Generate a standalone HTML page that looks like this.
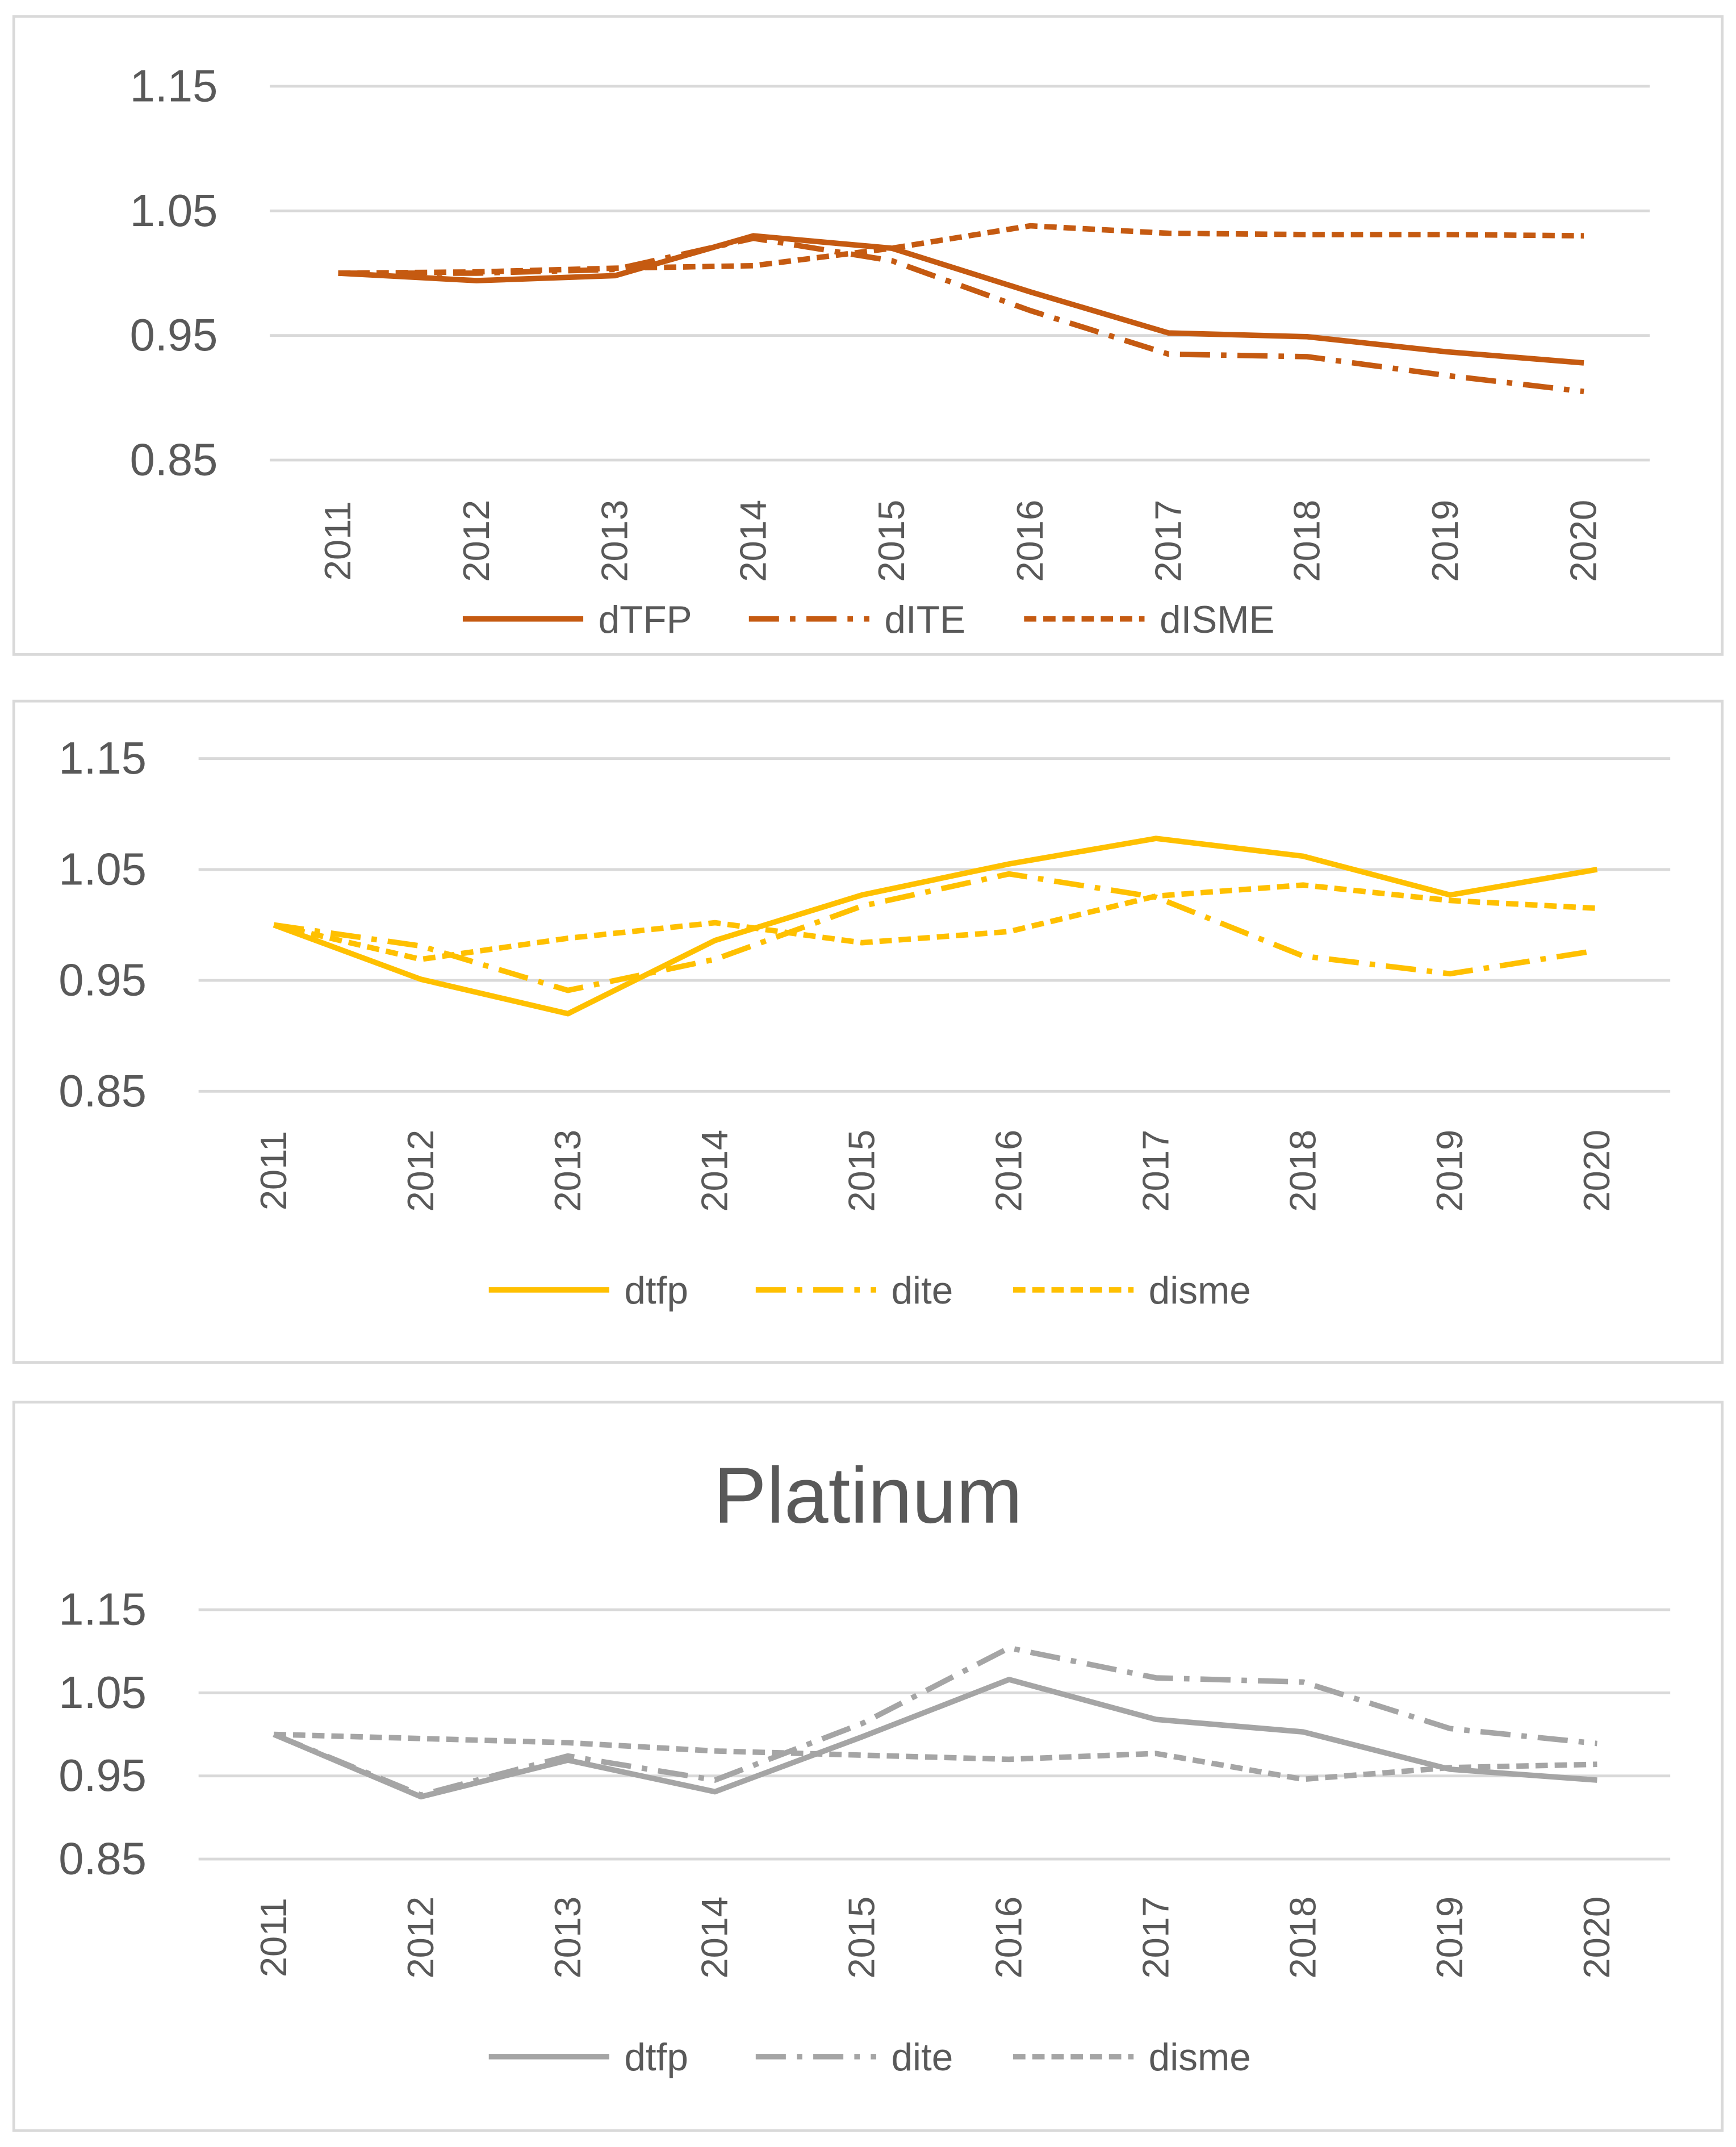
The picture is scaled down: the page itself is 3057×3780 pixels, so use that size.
<!DOCTYPE html>
<html><head><meta charset="utf-8"><style>
html,body{margin:0;padding:0;background:#fff}
svg{display:block}
text{font-family:"Liberation Sans",sans-serif;fill:#595959}
</style></head><body>
<svg id="chart" width="3057" height="3780" viewBox="0 0 1268 1568" xmlns="http://www.w3.org/2000/svg"></svg>
<script>
const years = ["2011","2012","2013","2014","2015","2016","2017","2018","2019","2020"];
const yTicks = [0.85, 0.95, 1.05, 1.15];
const p1TFP = [1.0, 0.994, 0.998, 1.030, 1.020, 0.985, 0.952, 0.949, 0.937, 0.928];
const p1ITE = [1.0, 1.0, 1.003, 1.028, 1.010, 0.970, 0.935, 0.933, 0.918, 0.905];
const p1ISME = [1.0, 1.001, 1.004, 1.006, 1.020, 1.038, 1.032, 1.031, 1.031, 1.030];
const p2TFP = [1.0, 0.951, 0.920, 0.986, 1.027, 1.055, 1.078, 1.062, 1.027, 1.050];
const p2ITE = [1.0, 0.981, 0.941, 0.969, 1.017, 1.046, 1.025, 0.972, 0.956, 0.977];
const p2ISME = [1.0, 0.969, 0.988, 1.002, 0.984, 0.994, 1.026, 1.036, 1.022, 1.015];
const p3TFP = [1.0, 0.925, 0.969, 0.931, 0.997, 1.066, 1.018, 1.003, 0.958, 0.945];
const p3ITE = [1.0, 0.927, 0.974, 0.945, 1.013, 1.104, 1.068, 1.063, 1.007, 0.989];
const p3ISME = [1.0, 0.995, 0.990, 0.980, 0.975, 0.970, 0.977, 0.946, 0.960, 0.964];

const NS="http://www.w3.org/2000/svg";
const svg=document.getElementById('chart');
function el(tag,attrs,parent){const e=document.createElementNS(NS,tag);for(const k in attrs)e.setAttribute(k,attrs[k]);(parent||svg).appendChild(e);return e;}
const dashes={solid:"", dashdot:"22,8,4,8", dash:"9,5"};

function panel(cfg){
  const g=el('g',{});
  
  
  const b=el('rect',{x:10,y:cfg.top,width:1248,height:cfg.h,fill:'#fff',stroke:'#d9d9d9','stroke-width':2},g);
  
  
  if(cfg.title){const t=el('text',{x:634,y:cfg.titleY,'text-anchor':'middle','font-size':58},g);t.textContent=cfg.title;
    
    }
  const yScale=v=>cfg.y095+(0.95-v)/0.1*cfg.step;
  const xScale=i=>cfg.x0+i*cfg.dx;
  yTicks.forEach(v=>{
    const l=el('line',{x1:cfg.gx1,x2:cfg.gx2,y1:yScale(v),y2:yScale(v),stroke:'#d9d9d9','stroke-width':2},g);
    
    
    const t=el('text',{x:cfg.gx1-38,y:yScale(v)+11,'text-anchor':'end','font-size':33},g);
    t.textContent=v.toFixed(2);
    
    
  });
  years.forEach((yr,i)=>{
    const x=xScale(i)+9,y=cfg.labY;
    const t=el('text',{x:x,y:y,'text-anchor':'middle','font-size':27,transform:`rotate(-90 ${x} ${y})`},g);
    t.textContent=yr;
    
    
  });
  cfg.series.forEach((s,si)=>{
    const pts=s.data.map((v,i)=>xScale(i)+','+yScale(v)).join(' ');
    const p=el('polyline',{points:pts,fill:'none',stroke:cfg.color,'stroke-width':4,'stroke-dasharray':dashes[s.dash],'stroke-linejoin':'round'},g);
    
    
    const lx=cfg.legX[si];
    const ll=el('line',{x1:lx,x2:lx+88,y1:cfg.legY,y2:cfg.legY,stroke:cfg.color,'stroke-width':4,'stroke-dasharray':dashes[s.dash]},g);
    
    
    const lt=el('text',{x:lx+99,y:cfg.legY+10,'font-size':28},g);
    lt.textContent=s.label;
    
    
  });
}
panel({name:'chart-panel-1',top:12,h:466,color:'#C55A11',y095:245,step:91,gx1:197,gx2:1205,x0:247,dx:101.1,labY:395,legY:452,legX:[338,547,748],
  series:[{label:'dTFP',data:p1TFP,dash:'solid'},{label:'dITE',data:p1ITE,dash:'dashdot'},{label:'dISME',data:p1ISME,dash:'dash'}]});
panel({name:'chart-panel-2',top:512,h:483,color:'#FFC000',y095:716,step:81,gx1:145,gx2:1220,x0:200,dx:107.4,labY:855,legY:942,legX:[357,552,740],
  series:[{label:'dtfp',data:p2TFP,dash:'solid'},{label:'dite',data:p2ITE,dash:'dashdot'},{label:'disme',data:p2ISME,dash:'dash'}]});
panel({name:'chart-panel-platinum',top:1024,h:532,title:'Platinum',titleY:1112,color:'#A5A5A5',y095:1297,step:60.7,gx1:145,gx2:1220,x0:200,dx:107.4,labY:1415,legY:1502,legX:[357,552,740],
  series:[{label:'dtfp',data:p3TFP,dash:'solid'},{label:'dite',data:p3ITE,dash:'dashdot'},{label:'disme',data:p3ISME,dash:'dash'}]});
</script>
</body></html>
